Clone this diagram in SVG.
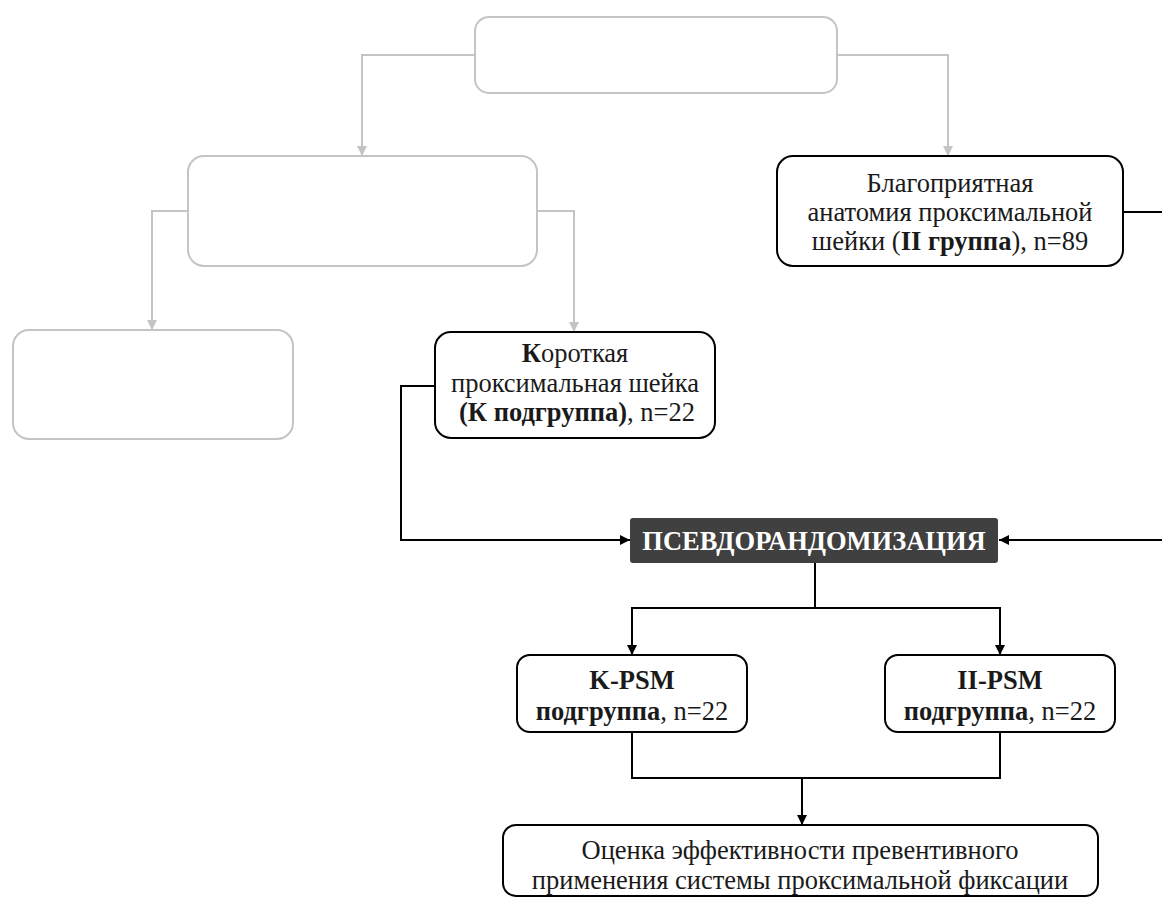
<svg xmlns="http://www.w3.org/2000/svg" width="1162" height="898" viewBox="0 0 1162 898">
<defs>
<style>
.g{fill:#fff;stroke:#c4c4c4;stroke-width:2}
.b{fill:#fff;stroke:#000;stroke-width:2}
.gl{fill:none;stroke:#c4c4c4;stroke-width:2}
.bl{fill:none;stroke:#000;stroke-width:2}
text{font-family:"Liberation Serif","Times New Roman",serif;font-size:26.5px;fill:#1a1a1a;text-anchor:middle}
.bd{font-weight:bold}
.w{fill:#fff;font-weight:bold;font-size:26.5px}
</style>
<marker id="ag" viewBox="0 0 10 10" refX="10" refY="5" markerWidth="10" markerHeight="10" markerUnits="userSpaceOnUse" orient="auto"><path d="M0,0L10,5L0,10z" fill="#c4c4c4"/></marker>
<marker id="ab" viewBox="0 0 10 10" refX="10" refY="5" markerWidth="10" markerHeight="10" markerUnits="userSpaceOnUse" orient="auto"><path d="M0,0L10,5L0,10z" fill="#000"/></marker>
</defs>
<rect width="1162" height="898" fill="#fff"/>
<g id="connectors">
<path class="gl" d="M475,55H362V156" marker-end="url(#ag)"/>
<path class="gl" d="M837,55H948V156" marker-end="url(#ag)"/>
<path class="gl" d="M188,211H152V330" marker-end="url(#ag)"/>
<path class="gl" d="M537,211H574V332" marker-end="url(#ag)"/>
<path class="bl" d="M1123,212H1164"/>
<path class="bl" d="M435,386H401V540H630" marker-end="url(#ab)"/>
<path class="bl" d="M1164,540H999" marker-end="url(#ab)"/>
<path class="bl" d="M815,563V608"/>
<path class="bl" d="M632,608H1000"/>
<path class="bl" d="M632,607V655" marker-end="url(#ab)"/>
<path class="bl" d="M1000,607V655" marker-end="url(#ab)"/>
<path class="bl" d="M632,732V778H1000V732"/>
<path class="bl" d="M802,777V825" marker-end="url(#ab)"/>
</g>
<g id="n-top"><rect class="g" x="475" y="17" width="362" height="76" rx="14"/></g>
<g id="n-mid"><rect class="g" x="188" y="156" width="349" height="110" rx="16"/></g>
<g id="n-left"><rect class="g" x="13" y="330" width="280" height="109" rx="16"/></g>
<g id="n-group2">
<rect class="b" x="777" y="156" width="346" height="110" rx="16"/>
<text x="950" y="192">Благоприятная</text>
<text x="950" y="221">анатомия проксимальной</text>
<text x="950" y="250">шейки (<tspan class="bd">II группа</tspan>), n=89</text>
</g>
<g id="n-k">
<rect class="b" x="435" y="332" width="280" height="106" rx="16"/>
<text x="575" y="362"><tspan class="bd">К</tspan>ороткая</text>
<text x="575" y="392">проксимальная шейка</text>
<text x="577" y="421"><tspan class="bd">(К подгруппа)</tspan>, n=22</text>
</g>
<g id="n-psm">
<rect x="630" y="518" width="368" height="45" rx="3" fill="#404040"/>
<text class="w" x="814" y="550">ПСЕВДОРАНДОМИЗАЦИЯ</text>
</g>
<g id="n-kpsm">
<rect class="b" x="517" y="655" width="230" height="77" rx="13"/>
<text class="bd" x="632" y="689">K-PSM</text>
<text x="632" y="720"><tspan class="bd">подгруппа</tspan>, n=22</text>
</g>
<g id="n-iipsm">
<rect class="b" x="885" y="655" width="230" height="77" rx="13"/>
<text class="bd" x="1000" y="689">II-PSM</text>
<text x="1000" y="720"><tspan class="bd">подгруппа</tspan>, n=22</text>
</g>
<g id="n-eval">
<rect class="b" x="503" y="825" width="595" height="71" rx="13"/>
<text x="800" y="859">Оценка эффективности превентивного</text>
<text x="800" y="889">применения системы проксимальной фиксации</text>
</g>
</svg>
